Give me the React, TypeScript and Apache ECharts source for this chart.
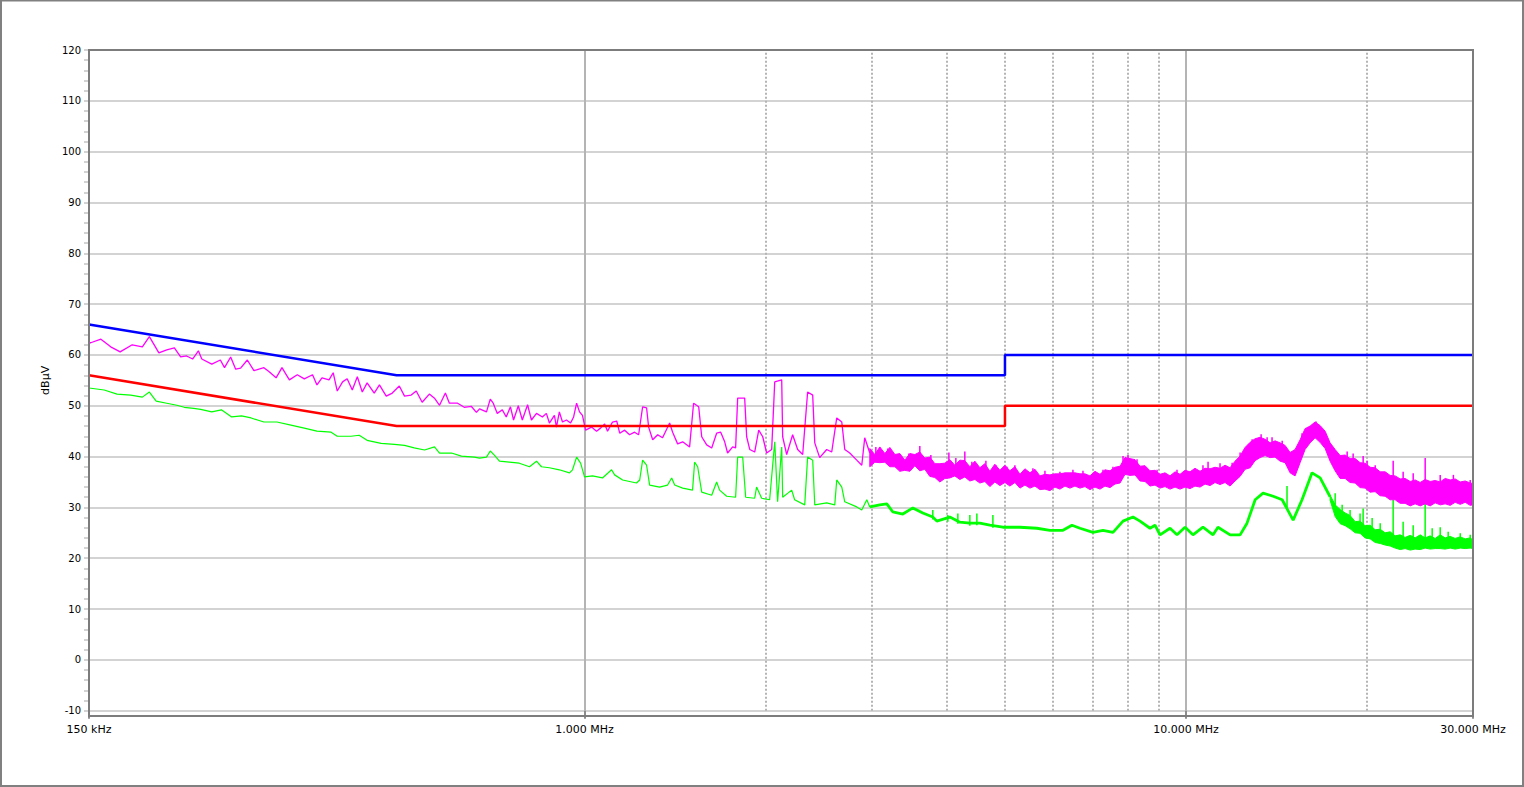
import React, { useEffect, useRef } from 'react';
import * as echarts from 'echarts';

// ---- axis / tick data ----
const xTickValues = [0.15, 1, 10, 30];
const xTickLabels = ['150 kHz', '1.000 MHz', '10.000 MHz', '30.000 MHz'];
const dottedGridFreqs = [2, 3, 4, 5, 6, 7, 8, 9, 20];
const yAxisName = 'dBµV';

// ---- limit lines (MHz, dBµV) ----
const qpLimit: [number, number][] = [[0.15, 66], [0.487, 56], [5, 56], [5, 60], [30, 60]];
const avLimit: [number, number][] = [[0.15, 56], [0.487, 46], [5, 46], [5, 50], [30, 50]];

// ---- peak trace (magenta), sparse part ----
const peakTrace: [number, number][] = [
  [0.150, 62.4], [0.151, 62.4], [0.157, 63.1], [0.163, 61.6], [0.169, 60.6], [0.177, 62.0], [0.184, 61.6], [0.189, 63.6],
  [0.196, 60.4], [0.202, 61.0], [0.208, 61.4], [0.213, 59.6], [0.218, 59.8], [0.223, 59.2], [0.228, 60.8], [0.231, 59.2],
  [0.240, 58.2], [0.248, 59.0], [0.252, 57.5], [0.258, 59.6], [0.263, 57.2], [0.268, 57.4], [0.275, 59.0], [0.282, 56.9],
  [0.293, 57.5], [0.299, 56.7], [0.307, 55.5], [0.314, 57.5], [0.323, 55.1], [0.333, 56.1], [0.342, 55.3], [0.353, 56.1],
  [0.359, 54.1], [0.366, 55.5], [0.376, 55.1], [0.382, 56.5], [0.388, 52.9], [0.396, 54.7], [0.403, 55.3], [0.411, 53.1],
  [0.419, 55.7], [0.427, 52.7], [0.435, 54.5], [0.447, 52.5], [0.456, 54.1], [0.468, 51.9], [0.479, 52.5], [0.492, 53.9],
  [0.502, 51.9], [0.515, 52.1], [0.525, 52.9], [0.537, 50.7], [0.552, 52.3], [0.563, 51.5], [0.574, 50.1], [0.587, 52.5],
  [0.596, 50.5], [0.615, 50.5], [0.631, 49.7], [0.648, 49.9], [0.661, 48.7], [0.669, 49.4], [0.687, 48.8], [0.697, 51.3],
  [0.705, 50.5], [0.716, 48.5], [0.730, 49.2], [0.741, 47.8], [0.753, 49.8], [0.762, 47.2], [0.776, 50.0], [0.788, 47.2],
  [0.804, 50.2], [0.816, 47.2], [0.832, 48.5], [0.851, 47.8], [0.864, 48.5], [0.874, 46.6], [0.891, 48.1], [0.898, 45.8],
  [0.908, 48.8], [0.919, 46.8], [0.933, 47.2], [0.948, 46.6], [0.959, 47.8], [0.970, 50.5], [0.981, 48.8], [0.992, 48.1],
  [1.004, 45.2], [1.027, 45.8], [1.047, 45.0], [1.063, 45.6], [1.080, 46.4], [1.092, 45.0], [1.113, 46.8], [1.131, 47.0],
  [1.144, 44.6], [1.166, 45.2], [1.188, 44.3], [1.211, 44.8], [1.230, 44.3], [1.249, 49.8], [1.268, 49.6], [1.278, 45.8],
  [1.298, 43.3], [1.323, 44.3], [1.348, 43.7], [1.385, 46.6], [1.401, 44.8], [1.428, 42.5], [1.456, 42.9], [1.495, 41.9],
  [1.518, 50.5], [1.548, 49.8], [1.566, 43.9], [1.596, 42.3], [1.627, 41.7], [1.658, 44.6], [1.684, 44.8], [1.710, 42.9],
  [1.729, 40.7], [1.763, 41.9], [1.783, 41.7], [1.797, 51.5], [1.846, 51.5], [1.860, 43.9], [1.882, 41.4], [1.918, 40.9],
  [1.948, 45.2], [1.978, 43.9], [2.008, 40.7], [2.047, 41.4], [2.071, 54.7], [2.127, 55.1], [2.135, 43.9], [2.168, 40.4],
  [2.218, 44.3], [2.261, 41.4], [2.305, 40.4], [2.349, 52.7], [2.395, 52.1], [2.414, 42.7], [2.460, 39.8], [2.527, 41.4],
  [2.576, 40.9], [2.626, 47.6], [2.677, 46.8], [2.708, 41.4], [2.760, 40.7], [2.835, 39.3], [2.890, 38.3], [2.923, 43.7],
  [2.980, 40.7],
];

// ---- peak trace (magenta), dense part: [MHz, upper, lower] ----
const peakBand: [number, number, number][] = [
  [2.980, 41.6, 38.0], [3.038, 40.4, 38.9], [3.097, 41.9, 38.8], [3.157, 40.6, 38.9], [3.218, 41.8, 38.0], [3.281, 40.4, 38.0],
  [3.343, 40.6, 37.1], [3.408, 39.3, 37.3], [3.474, 40.6, 37.1], [3.541, 40.4, 38.2], [3.609, 40.9, 37.2], [3.679, 39.7, 37.5],
  [3.750, 39.9, 36.1], [3.823, 38.6, 35.9], [3.897, 38.6, 35.0], [3.972, 38.7, 35.7], [4.049, 39.4, 35.8], [4.127, 38.3, 36.2],
  [4.207, 39.3, 35.5], [4.288, 39.2, 36.0], [4.371, 38.0, 35.2], [4.456, 39.1, 35.5], [4.542, 37.8, 34.8], [4.630, 38.6, 35.1],
  [4.719, 37.1, 34.1], [4.810, 38.5, 35.0], [4.904, 37.3, 34.3], [4.999, 38.3, 34.9], [5.095, 37.2, 34.2], [5.194, 38.0, 34.9],
  [5.295, 36.5, 33.8], [5.397, 37.6, 34.4], [5.502, 36.8, 33.8], [5.608, 37.5, 34.2], [5.716, 36.2, 33.5], [5.827, 36.5, 33.6],
  [5.939, 36.4, 33.3], [6.054, 36.6, 34.0], [6.171, 36.6, 33.6], [6.291, 36.8, 34.2], [6.412, 36.8, 33.8], [6.536, 36.8, 34.2],
  [6.663, 36.6, 33.8], [6.792, 36.6, 34.1], [6.923, 36.2, 33.5], [7.057, 37.1, 34.0], [7.194, 36.5, 33.6], [7.333, 37.4, 34.2],
  [7.475, 37.2, 33.9], [7.619, 37.9, 34.6], [7.767, 38.1, 34.8], [7.917, 39.8, 36.5], [8.070, 39.6, 36.3], [8.226, 39.4, 36.4],
  [8.385, 38.1, 35.2], [8.547, 38.2, 35.1], [8.712, 37.2, 34.2], [8.881, 37.3, 34.4], [9.052, 36.5, 33.8], [9.227, 36.8, 34.1],
  [9.406, 36.2, 33.6], [9.588, 37.0, 34.0], [9.773, 36.5, 33.6], [9.962, 37.3, 34.0], [10.155, 37.0, 33.7], [10.35, 37.7, 34.2],
  [10.551, 37.1, 34.0], [10.755, 37.7, 34.6], [10.963, 37.6, 34.3], [11.175, 37.9, 34.9], [11.391, 37.7, 34.5], [11.611, 38.3, 34.9],
  [11.836, 37.8, 34.2], [12.065, 39.1, 35.2], [12.298, 40.1, 36.1], [12.536, 41.8, 37.5], [12.779, 42.8, 37.8], [13.025, 43.5, 39.2],
  [13.277, 43.8, 39.8], [13.534, 43.4, 40.2], [13.796, 42.7, 39.8], [14.062, 43.1, 39.9], [14.335, 42.7, 39.1], [14.612, 42.2, 38.8],
  [14.894, 40.8, 36.8], [15.182, 41.4, 36.2], [15.475, 43.3, 38.8], [15.775, 45.5, 41.4], [16.080, 46.0, 42.7], [16.390, 46.8, 43.7],
  [16.708, 46.1, 42.8], [17.031, 45.0, 41.6], [17.360, 42.7, 39.1], [17.696, 41.4, 37.2], [18.038, 40.2, 35.7], [18.387, 40.3, 35.7],
  [18.743, 39.6, 34.9], [19.105, 39.6, 34.8], [19.474, 38.8, 33.9], [19.851, 38.7, 33.8], [20.235, 37.9, 33.0], [20.626, 37.8, 33.1],
  [21.025, 37.0, 32.3], [21.432, 37.0, 32.2], [21.846, 36.3, 31.5], [22.269, 36.2, 31.5], [22.700, 35.6, 30.8], [23.139, 35.7, 30.8],
  [23.586, 35.1, 30.3], [24.042, 35.4, 30.7], [24.506, 34.9, 30.3], [24.980, 35.5, 30.7], [25.463, 35.1, 30.3], [25.956, 35.3, 30.9],
  [26.458, 35.0, 30.5], [26.970, 35.7, 30.7], [27.491, 35.4, 30.4], [28.023, 35.6, 31.0], [28.565, 35.0, 30.6], [29.117, 35.2, 31.0],
  [29.680, 34.8, 30.4], [30.000, 34.7, 30.5],
];

// ---- narrow spikes above the peak band: [MHz, from, to] ----
const peakSpikes: [number, number, number][] = [
  [3.050, 40.0, 41.9], [3.193, 40.2, 41.6], [3.461, 39.0, 40.6], [3.609, 39.5, 42.1], [3.765, 38.8, 40.3], [4.034, 38.0, 40.8],
  [4.143, 38.0, 39.7], [4.288, 38.0, 41.0], [4.405, 37.6, 39.0], [4.648, 37.4, 39.2], [4.829, 37.2, 38.3], [5.037, 36.8, 38.0],
  [5.194, 36.8, 38.3], [5.565, 36.4, 37.7], [5.827, 35.8, 37.2], [6.171, 36.0, 37.0], [6.486, 36.2, 37.4], [6.740, 36.0, 37.2],
  [7.277, 36.2, 37.4], [7.560, 36.8, 38.0], [7.857, 37.8, 40.1], [8.008, 38.8, 40.3], [8.290, 38.5, 39.5], [8.950, 36.4, 37.4],
  [9.660, 36.2, 37.4], [10.67, 36.8, 38.3], [10.88, 36.8, 39.0], [11.39, 37.2, 38.7], [11.93, 37.5, 38.8], [12.30, 39.5, 40.8],
  [12.88, 42.5, 43.4], [13.33, 43.5, 44.4], [13.64, 42.5, 43.8], [13.90, 42.5, 43.8], [14.45, 42.0, 43.1], [15.59, 43.0, 44.6],
  [16.45, 46.0, 46.9], [18.53, 39.5, 41.0], [18.96, 39.2, 40.6], [19.70, 38.6, 40.1], [20.00, 38.0, 39.2], [20.63, 37.2, 38.3],
  [22.10, 35.5, 39.2], [22.96, 35.2, 37.0], [23.86, 35.0, 36.7], [24.98, 35.0, 39.7], [26.46, 35.0, 36.4], [27.83, 35.0, 36.4],
  [29.68, 34.8, 35.4],
];

// ---- average trace (green), sparse part ----
const avgTrace: [number, number][] = [
  [0.150, 53.5], [0.159, 53.1], [0.167, 52.3], [0.176, 52.1], [0.184, 51.7], [0.189, 52.7], [0.194, 50.9], [0.202, 50.5],
  [0.210, 50.1], [0.216, 49.7], [0.224, 49.5], [0.230, 49.3], [0.240, 48.8], [0.249, 49.2], [0.259, 47.8], [0.269, 48.0],
  [0.279, 47.6], [0.293, 46.8], [0.308, 46.8], [0.325, 46.2], [0.342, 45.6], [0.359, 45.0], [0.379, 44.8], [0.388, 44.0],
  [0.409, 44.0], [0.422, 44.2], [0.435, 43.2], [0.459, 42.6], [0.483, 42.4], [0.502, 42.2], [0.521, 41.7], [0.542, 41.3],
  [0.563, 41.9], [0.574, 40.7], [0.601, 40.7], [0.624, 40.1], [0.656, 39.9], [0.669, 39.7], [0.687, 39.9], [0.697, 41.1],
  [0.708, 40.3], [0.722, 39.1], [0.750, 38.9], [0.779, 38.7], [0.810, 38.0], [0.832, 39.1], [0.848, 38.0], [0.874, 37.8],
  [0.908, 37.4], [0.944, 36.8], [0.955, 37.4], [0.970, 39.9], [0.985, 38.7], [1.000, 36.0], [1.031, 36.2], [1.071, 35.8],
  [1.109, 37.4], [1.122, 36.4], [1.157, 35.4], [1.220, 34.8], [1.235, 35.4], [1.249, 39.3], [1.268, 38.3], [1.283, 34.4],
  [1.333, 34.0], [1.374, 34.4], [1.396, 35.8], [1.412, 34.4], [1.456, 33.8], [1.512, 33.4], [1.524, 38.9], [1.542, 38.0],
  [1.566, 33.0], [1.627, 32.4], [1.658, 35.0], [1.677, 33.4], [1.723, 32.2], [1.783, 32.0], [1.797, 39.9], [1.832, 39.9],
  [1.853, 32.0], [1.918, 31.8], [1.932, 34.0], [1.970, 31.8], [2.031, 31.5], [2.071, 42.9], [2.094, 31.1], [2.127, 41.9],
  [2.135, 32.0], [2.210, 33.4], [2.235, 31.5], [2.323, 30.5], [2.349, 39.9], [2.395, 39.3], [2.414, 30.5], [2.527, 30.9],
  [2.606, 30.5], [2.626, 35.4], [2.677, 34.0], [2.708, 31.1], [2.835, 30.1], [2.890, 29.5], [2.946, 31.5], [2.980, 30.1],
];

// ---- average trace (green), thicker middle part ----
const avgMid: [number, number][] = [
  [2.980, 30.1], [3.097, 30.5], [3.181, 30.7], [3.255, 29.1], [3.382, 28.7], [3.514, 29.9], [3.651, 28.9], [3.793, 28.1],
  [3.852, 27.3], [4.049, 28.1], [4.207, 27.1], [4.371, 26.9], [4.542, 26.9], [4.719, 26.5], [4.960, 26.1], [5.295, 26.1],
  [5.650, 25.9], [5.940, 25.5], [6.243, 25.5], [6.462, 26.5], [6.663, 25.9], [7.003, 25.1], [7.277, 25.5], [7.561, 25.1],
  [7.857, 27.3], [8.163, 28.1], [8.385, 27.3], [8.713, 25.9], [8.881, 26.5], [9.052, 24.6], [9.406, 25.9], [9.661, 24.6],
  [9.962, 26.1], [10.27, 24.6], [10.67, 26.1], [11.09, 24.6], [11.30, 26.1], [11.84, 24.6], [12.30, 24.6], [12.63, 26.9],
  [13.03, 31.5], [13.43, 32.8], [13.96, 32.2], [14.45, 31.5], [15.07, 27.5], [15.59, 31.5], [16.20, 36.8], [16.71, 35.8],
  [17.36, 32.1],
];

// ---- average trace (green), dense part: [MHz, upper, lower] ----
const avgBand: [number, number, number][] = [
  [17.36, 32.4, 31.4], [17.70, 30.5, 28.2], [18.04, 29.6, 26.8], [18.39, 28.9, 26.4], [18.74, 28.4, 25.8], [19.11, 27.2, 25.0],
  [19.47, 27.3, 24.9], [19.85, 26.4, 24.0], [20.24, 26.5, 23.8], [20.63, 25.6, 23.1], [21.03, 25.7, 22.9], [21.43, 25.0, 22.6],
  [21.85, 25.2, 22.4], [22.27, 24.4, 22.0], [22.70, 24.6, 21.7], [23.14, 24.1, 21.9], [23.59, 24.5, 21.6], [24.04, 24.0, 21.8],
  [24.51, 24.6, 21.7], [24.98, 24.0, 22.0], [25.46, 24.4, 21.8], [25.96, 23.9, 21.9], [26.46, 24.6, 21.9], [26.97, 24.0, 21.8],
  [27.49, 24.3, 22.0], [28.02, 23.9, 21.8], [28.57, 24.2, 22.0], [29.12, 23.8, 21.9], [29.68, 24.0, 22.0], [30.00, 23.6, 21.9],
];

// ---- narrow spikes on the average trace: [MHz, from, to] ----
const avgSpikes: [number, number, number][] = [
  [3.793, 27.6, 29.5], [4.018, 27.2, 28.5], [4.175, 26.8, 28.8], [4.371, 26.4, 28.5], [4.490, 26.5, 28.8], [4.774, 26.0, 28.5],
  [14.72, 29.8, 34.2], [17.70, 29.5, 32.8], [18.18, 28.5, 30.5], [18.74, 27.5, 29.5], [19.47, 26.5, 28.8], [19.70, 26.0, 29.8],
  [20.39, 25.5, 27.9], [21.03, 25.0, 26.9], [22.10, 24.0, 31.5], [22.96, 24.0, 27.2], [23.86, 23.8, 26.5], [24.98, 23.8, 31.1],
  [25.66, 23.8, 25.9], [26.46, 23.8, 26.1], [27.28, 23.6, 25.2], [28.57, 23.5, 24.9], [29.68, 23.4, 24.6],
];

const FONT = 'DejaVu Sans';

function bandSeries(band: [number, number, number][], color: string, z: number) {
  return {
    type: 'custom',
    coordinateSystem: 'cartesian2d',
    silent: true,
    z,
    data: [[band[0][0], band[0][1]]],
    encode: { x: 0, y: 1 },
    renderItem: (_params: any, api: any) => {
      const pts: number[][] = [];
      for (let i = 0; i < band.length; i++) pts.push(api.coord([band[i][0], band[i][1]]));
      for (let i = band.length - 1; i >= 0; i--) pts.push(api.coord([band[i][0], band[i][2]]));
      return {
        type: 'polygon',
        shape: { points: pts },
        style: { fill: color, stroke: color, lineWidth: 1 },
      };
    },
  };
}

function spikeSeries(spikes: [number, number, number][], color: string, z: number) {
  return {
    type: 'custom',
    coordinateSystem: 'cartesian2d',
    silent: true,
    z,
    data: spikes,
    encode: { x: 0, y: [1, 2] },
    renderItem: (_params: any, api: any) => {
      const a = api.coord([api.value(0), api.value(1)]);
      const b = api.coord([api.value(0), api.value(2)]);
      return {
        type: 'line',
        shape: { x1: a[0], y1: a[1], x2: b[0], y2: b[1] },
        style: { stroke: color, lineWidth: 1.5 },
      };
    },
  };
}

function lineSeries(data: [number, number][], color: string, width: number, z: number) {
  return {
    type: 'line',
    data,
    showSymbol: false,
    symbol: 'none',
    silent: true,
    z,
    lineStyle: { color, width },
    itemStyle: { color },
  };
}

export default function App() {
  const ref = useRef<HTMLDivElement>(null);
  useEffect(() => {
    document.body.style.margin = '0';
    const chart = echarts.init(ref.current!, null, { renderer: 'svg' });
    const option: any = {
      animation: false,
      backgroundColor: '#ffffff',
      grid: { left: 89, right: 51, top: 50, bottom: 76.3, containLabel: false },
      xAxis: {
        type: 'log',
        logBase: 10,
        min: 0.15,
        max: 30,
        axisLine: { show: false, onZero: false },
        axisTick: { show: true, length: 8, lineStyle: { color: '#8c8c8c', width: 2 } },
        axisLabel: {
          show: true,
          margin: 13,
          fontSize: 11,
          fontFamily: FONT,
          color: '#000',
          showMinLabel: true,
          showMaxLabel: true,
          formatter: (v: number) => {
            const i = xTickValues.findIndex((t) => Math.abs(t - v) / t < 1e-4);
            return i >= 0 ? xTickLabels[i] : '';
          },
        },
        splitLine: { show: true, lineStyle: { color: '#b4b4b4', width: 2 } },
        minorTick: { show: false },
        minorSplitLine: { show: false },
      },
      yAxis: {
        type: 'value',
        min: -10,
        max: 120,
        interval: 10,
        name: yAxisName,
        nameLocation: 'middle',
        nameGap: 36,
        nameTextStyle: { fontSize: 11, fontFamily: FONT, color: '#000' },
        axisLine: { show: false },
        axisTick: { show: true, length: 5, lineStyle: { color: '#c4c4c4', width: 1.5 } },
        minorTick: { show: true, splitNumber: 5, length: 5, lineStyle: { color: '#c4c4c4', width: 1.5 } },
        axisLabel: { margin: 8, fontSize: 10, fontFamily: FONT, color: '#000' },
        splitLine: { show: true, lineStyle: { color: '#d3d3d3', width: 2 } },
      },
      graphic: [
        {
          type: 'rect',
          z: 100,
          silent: true,
          shape: { x: 89, y: 50, width: 1384, height: 666 },
          style: { fill: 'none', stroke: '#7c7c7c', lineWidth: 2 },
        },
        {
          type: 'rect',
          z: 100,
          silent: true,
          shape: { x: 1, y: 0.5, width: 1522, height: 785.5 },
          style: { fill: 'none', stroke: '#808080', lineWidth: 2 },
        },
      ],
      series: [
        {
          type: 'line',
          data: [],
          silent: true,
          z: 1,
          markLine: {
            silent: true,
            z: 1,
            symbol: ['none', 'none'],
            label: { show: false },
            lineStyle: { color: '#b4b4b4', width: 2, type: [2, 2] },
            data: dottedGridFreqs.map((f) => ({ xAxis: f })),
          },
        },
        lineSeries(avgTrace, '#00ff00', 1.2, 3),
        lineSeries(avgMid, '#00ff00', 2.8, 3),
        bandSeries(avgBand, '#00ff00', 3),
        spikeSeries(avgSpikes, '#00ff00', 3),
        lineSeries(peakTrace, '#ff00ff', 1.3, 4),
        bandSeries(peakBand, '#ff00ff', 4),
        spikeSeries(peakSpikes, '#ff00ff', 4),
        lineSeries(avLimit, '#ff0000', 2.5, 5),
        lineSeries(qpLimit, '#0000ff', 2.5, 5),
      ],
    };
    chart.setOption(option);
    return () => chart.dispose();
  }, []);
  return <div ref={ref} style={{ width: 1524, height: 787 }} />;
}
